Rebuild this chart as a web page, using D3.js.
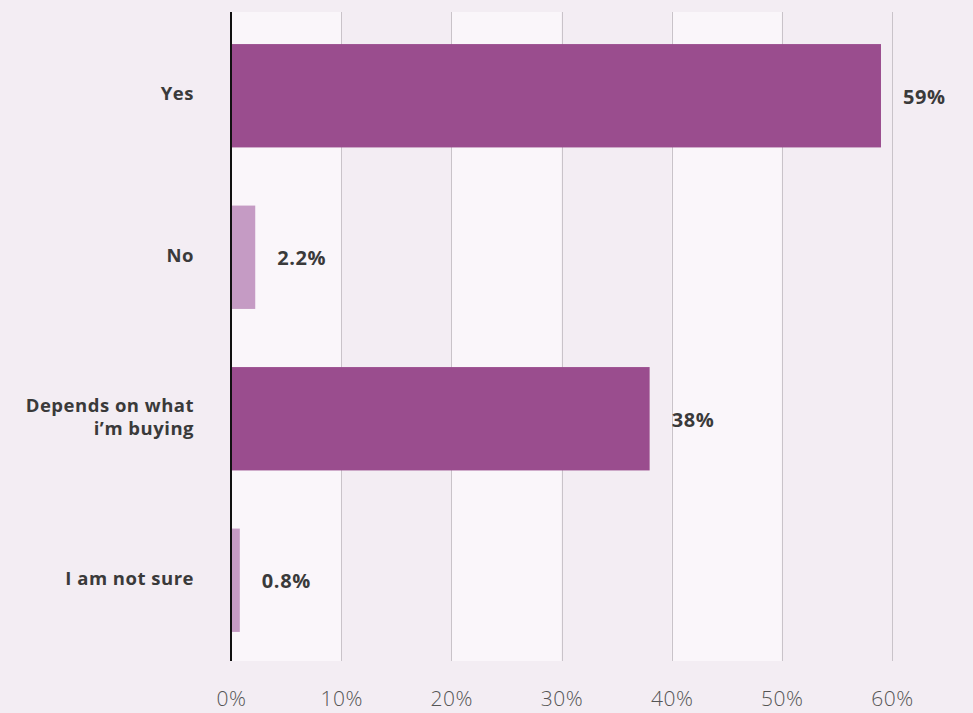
<!DOCTYPE html>
<html>
<head>
<meta charset="utf-8">
<script src="https://cdn.jsdelivr.net/npm/d3@7"></script>
<style>
  html, body { margin: 0; padding: 0; background: #f3edf3; }
  svg { display: block; }
</style>
</head>
<body>
<svg id="chart" width="973" height="713"></svg>
<script>
// Survey answers and their shares (%)
const categories = ["Yes", "No", "Depends on what\ni’m buying", "I am not sure"];
const values = [59, 2.2, 38, 0.8];
const valueLabels = ["59%", "2.2%", "38%", "0.8%"];
const barColors = ["#9a4d8e", "#c59bc4", "#9a4d8e", "#c59bc4"];
const tickValues = [0, 10, 20, 30, 40, 50, 60];
const tickLabels = ["0%", "10%", "20%", "30%", "40%", "50%", "60%"];

const svg = d3.select("#chart");
const W = 973, H = 713;
const plotLeft = 231, plotRight = 892, plotTop = 12, bandTop = 15, plotBottom = 661;

svg.append("rect").attr("width", W).attr("height", H).attr("fill", "#f3edf3");

const x = d3.scaleLinear().domain([0, 60]).range([plotLeft, plotRight]);
const y = d3.scaleBand().domain(categories).range([bandTop, plotBottom]).paddingInner(0.36).paddingOuter(0.18);

// Alternating column shading between gridlines
const stripes = d3.pairs(tickValues).filter((d, i) => i % 2 === 0);
svg.append("g").selectAll("rect").data(stripes).join("rect")
  .attr("x", d => x(d[0]))
  .attr("y", plotTop)
  .attr("width", d => x(d[1]) - x(d[0]))
  .attr("height", plotBottom - plotTop)
  .attr("fill", "#faf6fa");

// Vertical gridlines
svg.append("g").selectAll("line").data(tickValues.slice(1)).join("line")
  .attr("x1", d => Math.round(x(d)) + 0.5)
  .attr("x2", d => Math.round(x(d)) + 0.5)
  .attr("y1", plotTop).attr("y2", plotBottom)
  .attr("stroke", "#c9c3c9").attr("stroke-width", 1);

// Bars
svg.append("g").selectAll("rect").data(categories).join("rect")
  .attr("x", x(0))
  .attr("y", d => y(d))
  .attr("width", (d, i) => x(values[i]) - x(0))
  .attr("height", y.bandwidth())
  .attr("fill", (d, i) => barColors[i]);

// Baseline axis
svg.append("line")
  .attr("x1", plotLeft).attr("x2", plotLeft)
  .attr("y1", plotTop).attr("y2", plotBottom)
  .attr("stroke", "#111").attr("stroke-width", 2);

// Value labels
svg.append("g").selectAll("text").data(categories).join("text")
  .attr("x", (d, i) => x(values[i]) + 22)
  .attr("y", d => y(d) + y.bandwidth() / 2 + 1)
  .attr("dy", "0.35em")
  .attr("font-family", "'Open Sans', sans-serif")
  .attr("font-weight", 700)
  .attr("font-size", 20)
  .attr("letter-spacing", 0.6)
  .attr("fill", "#3a3a3a")
  .text((d, i) => valueLabels[i]);

// Category labels (right aligned, multi-line)
const catG = svg.append("g").selectAll("text").data(categories).join("text")
  .attr("text-anchor", "end")
  .attr("font-family", "'Open Sans', sans-serif")
  .attr("font-weight", 700)
  .attr("font-size", 18.5)
  .attr("letter-spacing", 0.5)
  .attr("fill", "#3a3a3a")
  .attr("transform", d => `translate(194, ${y(d) + y.bandwidth() / 2})`);
catG.each(function(d) {
  const lines = d.split("\n");
  const lh = 23;
  const t = d3.select(this);
  lines.forEach((ln, j) => {
    t.append("tspan")
      .attr("x", 0)
      .attr("y", (j - (lines.length - 1) / 2) * lh - 2)
      .attr("dy", "0.35em")
      .text(ln);
  });
});

// Bottom axis tick labels
const axis = d3.axisBottom(x).tickValues(tickValues).tickFormat((d, i) => tickLabels[i]).tickSize(0).tickPadding(0);
const ax = svg.append("g").attr("transform", `translate(0, 691)`).call(axis);
ax.select(".domain").remove();
ax.selectAll("text")
  .attr("dy", "0.71em")
  .attr("font-family", "'Open Sans', sans-serif")
  .attr("font-weight", 300)
  .attr("font-size", 21)
  .attr("letter-spacing", 0.5)
  .attr("fill", "#555");
</script>
</body>
</html>
